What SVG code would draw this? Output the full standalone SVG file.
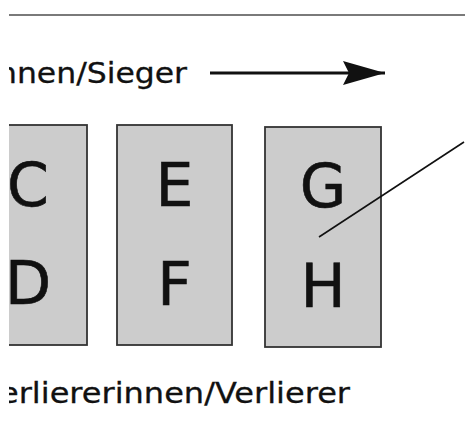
<svg xmlns="http://www.w3.org/2000/svg" width="465" height="432" viewBox="0 0 465 432">
  <style>
    .box { fill: #cccccc; stroke: #333333; stroke-width: 1.8; }
    .big { font-family: "DejaVu Sans", "Liberation Sans", sans-serif; font-size: 60px; fill: #111111; stroke: #111111; stroke-width: 0.6; text-anchor: middle; }
    .lbl { font-family: "DejaVu Sans", "Liberation Sans", sans-serif; font-size: 28px; fill: #111111; stroke: #111111; stroke-width: 0.3; }
    .conn { stroke: #111111; fill: none; }
  </style>
  <defs>
    <clipPath id="crop">
      <rect x="9" y="0" width="456" height="432"/>
    </clipPath>
    <marker id="head" viewBox="0 0 42 24" refX="42" refY="12" markerWidth="42" markerHeight="24" markerUnits="userSpaceOnUse" orient="auto">
      <path d="M0,0 L42,12 L0,24 L6,12 Z" fill="#111111"/>
    </marker>
  </defs>
  <rect width="465" height="432" fill="#ffffff"/>
  <g clip-path="url(#crop)">
    <line x1="9" y1="15" x2="465" y2="15" stroke="#7a7a7a" stroke-width="2"/>
    <text id="label-top" class="lbl" x="-3" y="83" textLength="190" lengthAdjust="spacingAndGlyphs">nnen/Sieger</text>
    <text id="label-bottom" class="lbl" x="-1" y="403" textLength="351" lengthAdjust="spacingAndGlyphs">erliererinnen/Verlierer</text>
    <g id="node-CD">
      <rect class="box" x="-28" y="125" width="115" height="220"/>
      <text class="big" x="28" y="206">C</text>
      <text class="big" x="28" y="304">D</text>
    </g>
    <g id="node-EF">
      <rect class="box" x="117" y="125" width="115" height="220"/>
      <text class="big" x="174.5" y="206">E</text>
      <text class="big" x="174.5" y="305">F</text>
    </g>
    <g id="node-GH">
      <rect class="box" x="265" y="127" width="116" height="220"/>
      <text class="big" x="323" y="207">G</text>
      <text class="big" x="323" y="307">H</text>
    </g>
    <g id="connectors">
      <line class="conn" x1="210" y1="73" x2="385" y2="73" stroke-width="3" marker-end="url(#head)"/>
      <line class="conn" x1="319" y1="237" x2="464" y2="142" stroke-width="1.6"/>
    </g>
  </g>
</svg>
